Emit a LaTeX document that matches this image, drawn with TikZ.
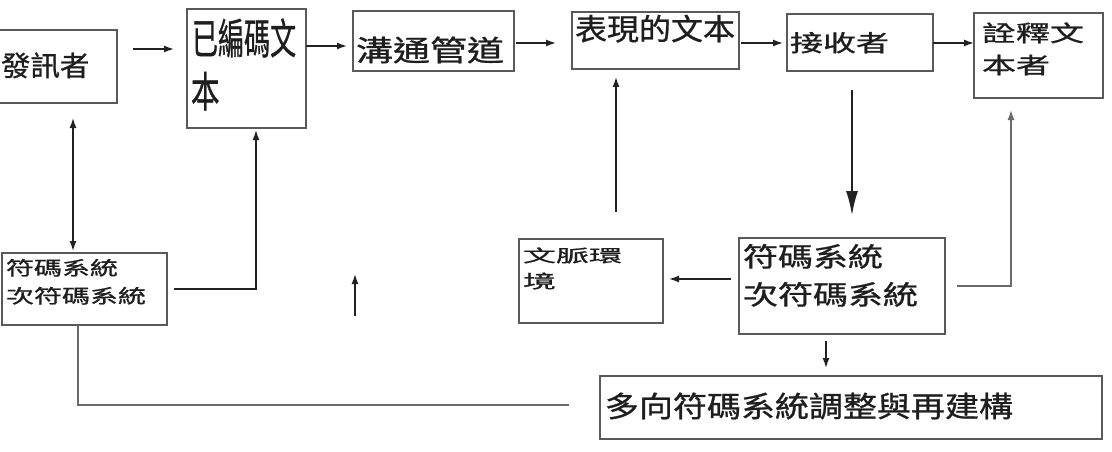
\documentclass[tikz,border=0pt]{standalone}
\usepackage{fontspec}
\usepackage{graphicx}
\usetikzlibrary{arrows.meta}
\newfontfamily\cjk[FakeBold=0.9]{Noto Sans CJK TC}
\newcommand{\sqz}[3]{\scalebox{#1}[#2]{#3}}
\definecolor{boxc}{HTML}{5A5A5A}
\definecolor{arrc}{HTML}{222222}
\definecolor{linec}{HTML}{6A6A6A}
\definecolor{textc}{HTML}{1E1E1E}
\tikzset{
  box/.style={draw=boxc, line width=1.4pt, rectangle, inner sep=0, outer sep=0, anchor=north west},
  txt/.style={inner sep=0, outer sep=0, anchor=base west, text=textc},
  arr/.style={draw=arrc, line width=1.4pt, -{Latex[length=10pt,width=7pt]}},
  arrboth/.style={draw=arrc, line width=1.4pt, {Latex[length=10pt,width=7pt]}-{Latex[length=10pt,width=7pt]}},
  bigarr/.style={draw=arrc, line width=1.4pt, -{Latex[length=24pt,width=12pt]}},
  plain/.style={draw=linec, line width=1.4pt},
  garr/.style={draw=linec, line width=1.4pt, -{Latex[length=10pt,width=7pt]}},
}
\begin{document}
\begin{tikzpicture}[x=1pt,y=-1pt]
\path[use as bounding box] (0,0) rectangle (1112,452);
\clip (0,0) rectangle (1112,452);
\fill[white] (0,0) rectangle (1112,452);

% boxes
\node[box, minimum width=127pt, minimum height=73pt] (send) at (-10,30) {};
\node[box, minimum width=119pt, minimum height=119pt] (enc) at (187,9) {};
\node[box, minimum width=161pt, minimum height=60pt] (chan) at (353,11) {};
\node[box, minimum width=167pt, minimum height=57pt] (expr) at (572,12) {};
\node[box, minimum width=146pt, minimum height=57pt] (recv) at (787,14) {};
\node[box, minimum width=129pt, minimum height=85pt] (interp) at (974,13) {};
\node[box, minimum width=165pt, minimum height=72pt] (codeL) at (2,253) {};
\node[box, minimum width=144pt, minimum height=84pt] (ctx) at (519,239) {};
\node[box, minimum width=206pt, minimum height=96pt] (codeR) at (739,238) {};
\node[box, minimum width=502pt, minimum height=63pt] (multi) at (600,376) {};

% texts
\node[txt, font=\cjk\fontsize{31}{31}\selectfont] (sendT) at (1,76) {\sqz{0.95}{0.9}{發訊者}};
\node[txt, font=\cjk\fontsize{42}{42}\selectfont] (encT1) at (192,54) {\sqz{0.62}{1}{已編碼文}};
\node[txt, font=\cjk\fontsize{42}{42}\selectfont] (encT2) at (191,107) {\sqz{0.68}{1}{本}};
\node[txt, font=\cjk\fontsize{37}{37}\selectfont] (chanT) at (356,61) {\sqz{1}{0.78}{溝通管道}};
\node[txt, font=\cjk\fontsize{32}{32}\selectfont] (exprT) at (575,40) {\sqz{1}{0.93}{表現的文本}};
\node[txt, font=\cjk\fontsize{33}{33}\selectfont] (recvT) at (790,51.5) {\sqz{1}{0.7}{接收者}};
\node[txt, font=\cjk\fontsize{34}{34}\selectfont] (interpT1) at (982,41.5) {\sqz{1}{0.66}{詮釋文}};
\node[txt, font=\cjk\fontsize{34}{34}\selectfont] (interpT2) at (982,73.5) {\sqz{1}{0.66}{本者}};
\node[txt, font=\cjk\fontsize{28}{28}\selectfont] (codeLT1) at (6,275) {\sqz{1}{0.68}{符碼系統}};
\node[txt, font=\cjk\fontsize{28}{28}\selectfont] (codeLT2) at (6,303) {\sqz{1}{0.68}{次符碼系統}};
\node[txt, font=\cjk\fontsize{33}{33}\selectfont] (ctxT1) at (523,262) {\sqz{1}{0.52}{文脈環}};
\node[txt, font=\cjk\fontsize{33}{33}\selectfont] (ctxT2) at (523,288) {\sqz{1}{0.55}{境}};
\node[txt, font=\cjk\fontsize{35}{35}\selectfont] (codeRT1) at (743,266.5) {\sqz{1}{0.76}{符碼系統}};
\node[txt, font=\cjk\fontsize{35}{35}\selectfont] (codeRT2) at (743,304.5) {\sqz{1}{0.76}{次符碼系統}};
\node[txt, font=\cjk\fontsize{34}{34}\selectfont] (multiT) at (605,417) {\sqz{1}{0.85}{多向符碼系統調整與再建構}};

% connectors
\draw[arr, shorten <=16pt, shorten >=13pt] (send.east |- 0,49) -- (enc.west |- 0,49);
\draw[arr, shorten >=6pt] (enc.east |- 0,46) -- (chan.west |- 0,46);
\draw[arr, shorten <=2pt, shorten >=16pt] (chan.east |- 0,43) -- (expr.west |- 0,43);
\draw[arr, shorten <=2pt, shorten >=4pt] (expr.east |- 0,43) -- (recv.west |- 0,43);
\draw[arr] (recv.east |- 0,43) -- (interp.west |- 0,43);
\draw[bigarr, shorten <=19pt, shorten >=23pt] (recv.south -| 852,0) -- (codeR.north -| 852,0);
\draw[arrboth, shorten <=15pt, shorten >=2pt] (send.south -| 73,0) -- (codeL.north -| 73,0);
\draw[arr, shorten <=7pt, shorten >=2pt] (codeL.east |- 0,289) -| (enc.south -| 256,0);
\draw[arr, shorten <=27pt, shorten >=8pt] (ctx.north -| 616,0) -- (expr.south -| 616,0);
\draw[arr, shorten <=8pt, shorten >=6pt] (codeR.west |- 0,279) -- (ctx.east |- 0,279);
\draw[garr, shorten <=12pt, shorten >=12pt] (codeR.east |- 0,286) -| (interp.south -| 1011,0);
\draw[arr, shorten <=7pt, shorten >=8pt] (codeR.south -| 826,0) -- (multi.north -| 826,0);
\draw[plain, shorten >=31pt] (codeL.south -| 78,0) |- (multi.west |- 0,405);
\coordinate (stubA) at (355,316);
\coordinate (stubB) at (355,274);
\draw[arr] (stubA) -- (stubB);
\end{tikzpicture}
\end{document}
